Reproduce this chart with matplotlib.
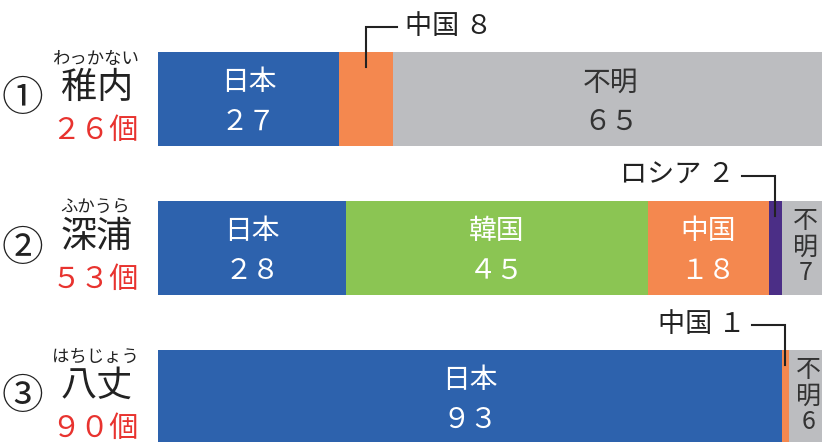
import matplotlib.pyplot as plt

plt.rcParams['font.family'] = ['Noto Sans CJK JP', 'DejaVu Sans']

# data
places = ['稚内', '深浦', '八丈']
furigana = ['わっかない', 'ふかうら', 'はちじょう']
marks = ['①', '②', '③']
totals = [26, 53, 90]
countries = ['日本', '韓国', '中国', 'ロシア', '不明']
shares = [
    [27, 0, 8, 0, 65],
    [28, 45, 18, 2, 7],
    [93, 0, 1, 0, 6],
]
colors = {'日本': '#2d62ad', '韓国': '#8bc553', '中国': '#f4884f',
          'ロシア': '#4b2e86', '不明': '#bcbdc0'}

FW = str.maketrans('0123456789', '０１２３４５６７８９')


def fw(n):
    return str(n).translate(FW)


fig = plt.figure(figsize=(8.22, 4.42), dpi=100)
ax = fig.add_axes([158 / 822, 0, 1 - 158 / 822, 1])
ax.set_xlim(0, 664 / 6.71)
ax.set_ylim((442 - 99) / 149, -99 / 149)
ax.axis('off')

h = 94 / 149
for i, row in enumerate(shares):
    left = 0
    for c, v in zip(countries, row):
        if v == 0:
            continue
        ax.barh(i, v, left=left, height=h, color=colors[c], linewidth=0)
        mid = left + v / 2
        if v >= 10:
            tc = '#333333' if c == '不明' else 'white'
            ax.text(mid, i + 0.02, f'{c}\n{fw(v)}', ha='center', va='center',
                    color=tc, fontsize=20, linespacing=1.4)
        elif c == '不明':
            ax.text(mid, i - h / 2 + 0.05, '不\n明\n' + str(v), ha='center',
                    va='top', color='#333333', fontsize=18, linespacing=1.0)
        else:
            # callout
            y_top = i - h / 2
            y0 = y_top + 0.1
            y1 = y_top - 0.17
            if i == 0:
                x1 = mid + 4.6
                ax.plot([mid, mid, x1], [y0, y1, y1], color='#222222', lw=1.5,
                        solid_joinstyle='miter')
                ax.text(x1 + 1.2, y1, f'{c} {fw(v)}', ha='left', va='center',
                        fontsize=19.5, color='#222222')
            else:
                x1 = mid - 5.0
                ax.plot([mid, mid, x1], [y0, y1, y1], color='#222222', lw=1.5,
                        solid_joinstyle='miter')
                ax.text(x1 - 1.0, y1, f'{c} {fw(v)}', ha='right', va='center',
                        fontsize=19.5, color='#222222')
        left += v

# left labels
for i in range(len(places)):
    yc = 99 + 149 * i
    fig.text(22 / 822, 1 - (yc + 1) / 442, marks[i], ha='center', va='center',
             fontsize=30, color='#222222')
    fig.text(95 / 822, 1 - (yc - 40) / 442, furigana[i], ha='center',
             va='center', fontsize=12.5, color='#222222')
    fig.text(97 / 822, 1 - (yc - 11) / 442, places[i], ha='center',
             va='center', fontsize=26, color='#222222')
    fig.text(95 / 822, 1 - (yc + 32) / 442, fw(totals[i]) + '個', ha='center',
             va='center', fontsize=21, color='#e8332f')

fig.savefig('out.png', dpi=100)
